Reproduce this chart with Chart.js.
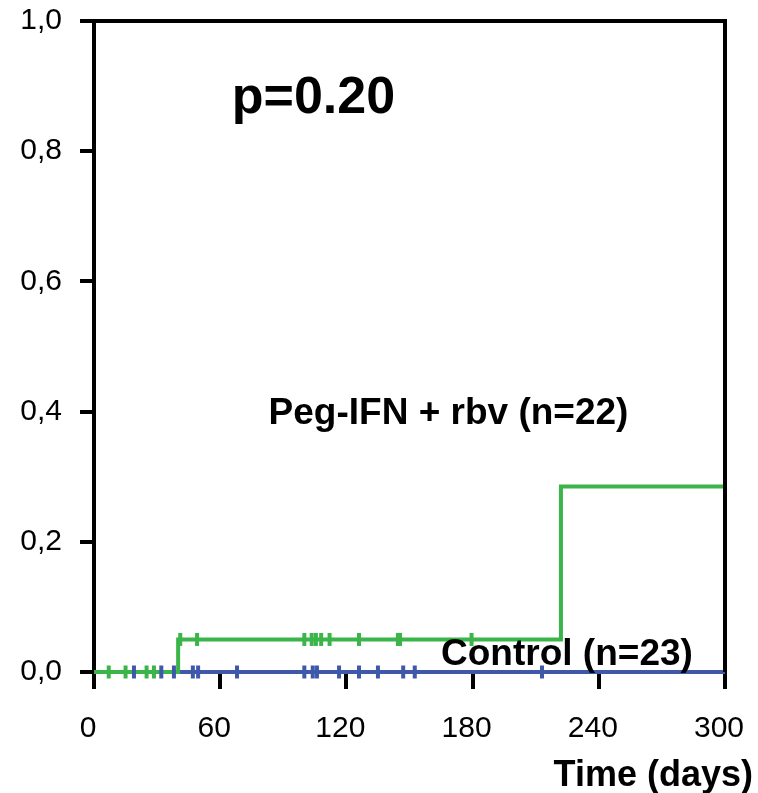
<!DOCTYPE html>
<html>
<head>
<meta charset="utf-8">
<script src="https://cdn.jsdelivr.net/npm/chart.js@4"></script>
<style>
    html, body { margin: 0; padding: 0; background: #fff; }
</style>
</head>
<body>
<canvas id="kmChart" width="758" height="793"></canvas>
<script>
// Tick values
const xTickValues = [0, 60, 120, 180, 240, 300];
const yTickValues = [0, 0.2, 0.4, 0.6, 0.8, 1.0];

// Step curves (time in days, cumulative proportion)
const pegTimes = [0, 40, 222, 300];
const pegValues = [0, 0.05, 0.285, 0.285];
const controlTimes = [0, 300];
const controlValues = [0, 0];

// Censored observations (days)
const pegCensored = [7, 15, 25, 28.5, 41, 49, 100, 103.5, 105.5, 108, 112, 126, 144.5, 145.5, 179.5];
const controlCensored = [19, 32, 38, 47, 49.5, 68, 100, 104, 106, 116.5, 126, 135, 147, 152.5, 213];

const GREEN = '#3bb54a';
const BLUE = '#3f58aa';
const FONT = '"Liberation Sans", Arial, sans-serif';

// value of a step curve at time t
function stepAt(times, values, t) {
    let v = values[0];
    for (let i = 0; i < times.length; i++) {
        if (times[i] <= t) v = values[i];
    }
    return v;
}

function toPoints(xs, ys) {
    return xs.map((x, i) => ({ x: x, y: ys[i] }));
}

function censorPoints(censored, times, values) {
    return censored.map(t => ({ x: t, y: stepAt(times, values, t) }));
}

// Text drawn in data space
const notes = [
    { text: 'p=0.20', x: 65.5, y: 0.88, size: 52 },
    { text: 'Peg-IFN + rbv (n=22)', x: 83, y: 0.397, size: 37 },
    { text: 'Control (n=23)', x: 165, y: 0.026, size: 37 }
];

const textPlugin = {
    id: 'kmText',
    afterDraw(chart) {
        const ctx = chart.ctx;
        const xs = chart.scales.x;
        const ys = chart.scales.y;
        const area = chart.chartArea;
        ctx.save();
        // top and right frame
        ctx.strokeStyle = '#000';
        ctx.lineWidth = 4;
        ctx.beginPath();
        ctx.moveTo(area.left, area.top);
        ctx.lineTo(area.right, area.top);
        ctx.lineTo(area.right, area.bottom);
        ctx.stroke();

        ctx.fillStyle = '#000';
        ctx.textBaseline = 'middle';
        ctx.textAlign = 'left';
        notes.forEach(n => {
            ctx.font = 'bold ' + n.size + 'px ' + FONT;
            ctx.fillText(n.text, xs.getPixelForValue(n.x), ys.getPixelForValue(n.y));
        });

        ctx.font = 'bold 36px ' + FONT;
        ctx.textAlign = 'right';
        ctx.fillText('Time (days)', chart.width - 5, 776);
        ctx.restore();
    }
};

new Chart(document.getElementById('kmChart'), {
    type: 'scatter',
    data: {
        datasets: [{
            label: 'Peg-IFN censored',
            data: censorPoints(pegCensored, pegTimes, pegValues),
            pointStyle: 'line',
            rotation: 90,
            pointRadius: 6.5,
            pointBorderWidth: 4,
            borderColor: GREEN,
            backgroundColor: GREEN,
            showLine: false,
            order: 0,
            clip: 10
        }, {
            label: 'Control censored',
            data: censorPoints(controlCensored, controlTimes, controlValues),
            pointStyle: 'line',
            rotation: 90,
            pointRadius: 6.5,
            pointBorderWidth: 4,
            borderColor: BLUE,
            backgroundColor: BLUE,
            showLine: false,
            order: 0,
            clip: 10
        }, {
            label: 'Peg-IFN + rbv (n=22)',
            data: toPoints(pegTimes, pegValues),
            showLine: true,
            stepped: true,
            borderColor: GREEN,
            borderWidth: 4,
            pointRadius: 0,
            order: 1,
            clip: 10
        }, {
            label: 'Control (n=23)',
            data: toPoints(controlTimes, controlValues),
            showLine: true,
            stepped: true,
            borderColor: BLUE,
            borderWidth: 4,
            pointRadius: 0,
            order: 2,
            clip: 10
        }]
    },
    options: {
        responsive: false,
        animation: false,
        layout: { padding: { left: 0, top: 21, right: 33, bottom: 0 } },
        plugins: {
            legend: { display: false },
            tooltip: { enabled: false }
        },
        scales: {
            x: {
                type: 'linear',
                min: 0,
                max: 300,
                afterBuildTicks: scale => { scale.ticks = xTickValues.map(v => ({ value: v })); },
                afterFit: scale => {
                    scale.height = 121;
                    scale.paddingLeft = 0;
                    scale.paddingRight = 0;
                },
                border: { display: true, color: '#000', width: 3 },
                grid: { drawOnChartArea: false, color: '#000', tickLength: 17, lineWidth: 4 },
                ticks: {
                    color: '#000',
                    font: { family: FONT, size: 30 },
                    padding: 22,
                    labelOffset: -6,
                    maxRotation: 0
                }
            },
            y: {
                min: 0,
                max: 1,
                afterBuildTicks: scale => { scale.ticks = yTickValues.map(v => ({ value: v })); },
                afterFit: scale => {
                    scale.width = 94;
                    scale.paddingTop = 0;
                    scale.paddingBottom = 0;
                },
                border: { display: true, color: '#000', width: 4 },
                grid: { drawOnChartArea: false, color: '#000', tickLength: 14, lineWidth: 4 },
                ticks: {
                    color: '#000',
                    font: { family: FONT, size: 30 },
                    padding: 18,
                    callback: v => v.toFixed(1).replace('.', ',')
                }
            }
        }
    },
    plugins: [textPlugin]
});
</script>
</body>
</html>
